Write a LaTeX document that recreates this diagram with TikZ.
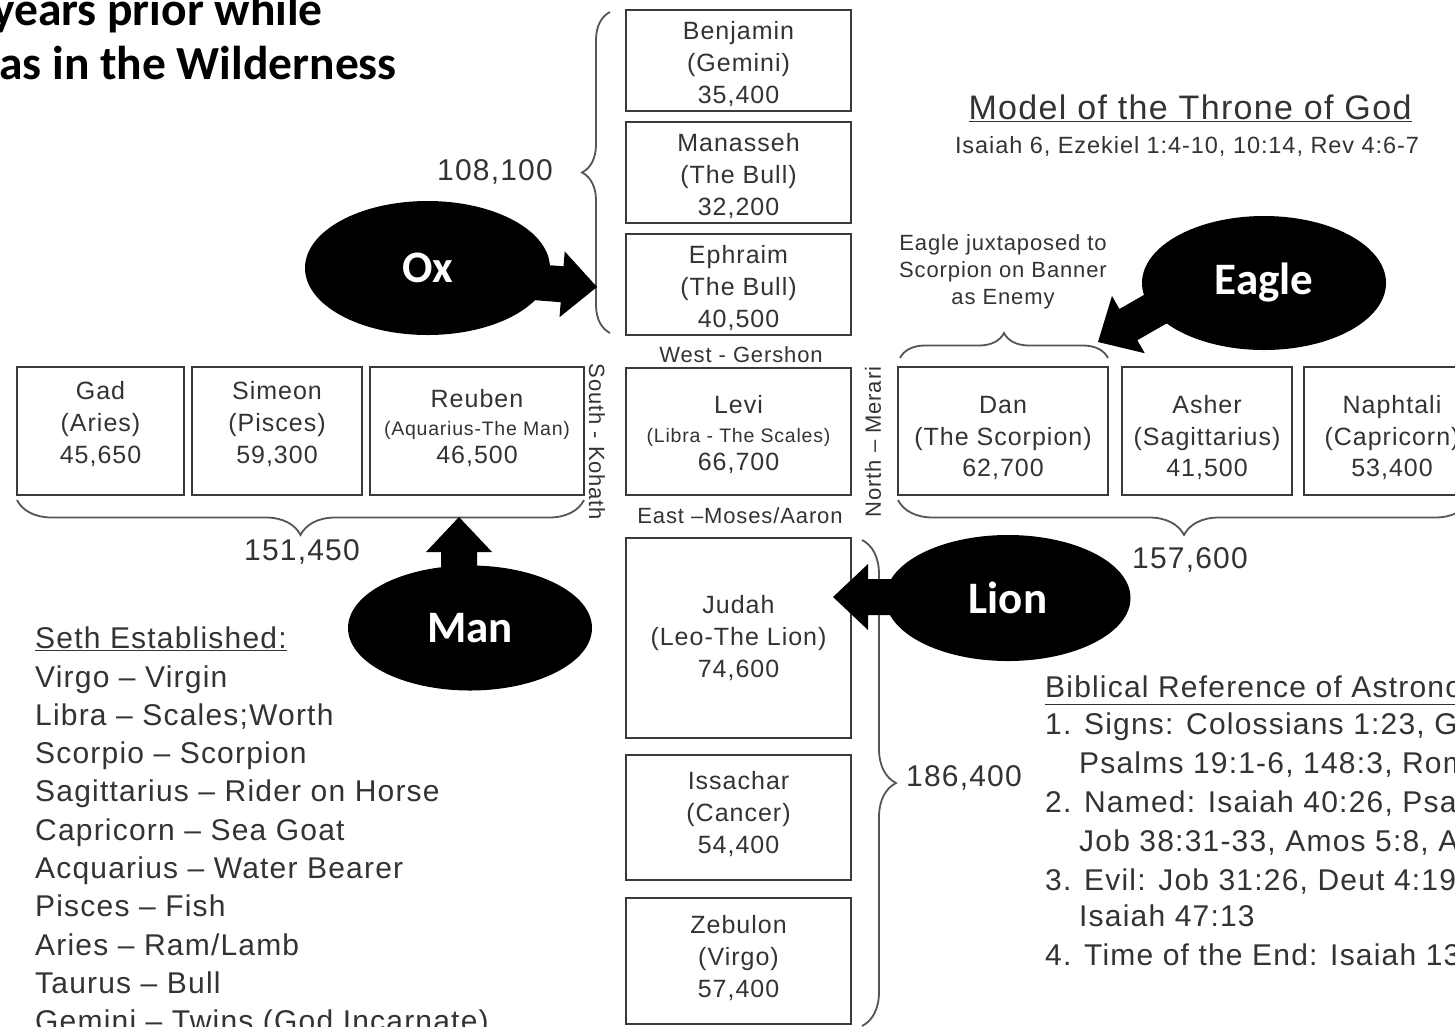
\documentclass[tikz,border=0pt]{standalone}
\usepackage{fontspec}
\usetikzlibrary{shapes.geometric,decorations.pathreplacing,calc}
\newfontfamily\bmf{Liberation Sans}[LetterSpace=4]
\newfontfamily\lbl{Carlito}
\definecolor{txtc}{HTML}{333333}
\definecolor{boxc}{HTML}{3A3A3A}
\definecolor{bracec}{HTML}{555555}
\newcommand{\blockarr}[2]{%
  \coordinate (hb) at ($(#2)!35pt!(#1)$);
  \fill[black] ($(#1)!18pt!-90:(hb)$) -- ($(hb)!18pt!90:(#1)$) -- ($(hb)!33pt!90:(#1)$) -- (#2)
    -- ($(hb)!33pt!-90:(#1)$) -- ($(hb)!18pt!-90:(#1)$) -- ($(#1)!18pt!90:(hb)$) -- cycle;
}
\tikzset{
  tbox/.style={draw=boxc, line width=2.2pt, inner sep=0pt, rectangle},
  ttxt/.style={text=txtc, font=\bmf\fontsize{25}{32}\selectfont, align=center, inner sep=0pt},
  blob/.style={ellipse, fill=black, inner sep=0pt, text=white, font=\lbl\bfseries\fontsize{45}{54}\selectfont},
  brc/.style={draw=bracec, line width=1.8pt, decorate, decoration={brace, amplitude=#1}},
  numtxt/.style={text=txtc, font=\bmf\fontsize{30}{36}\selectfont, inner sep=0pt},
  listtxt/.style={text=txtc, font=\bmf\fontsize{30}{36}\selectfont, inner sep=0pt, anchor=base west},
  dirtxt/.style={text=txtc, font=\bmf\fontsize{22}{26}\selectfont, inner sep=0pt},
  headtxt/.style={text=black, font=\lbl\bfseries\fontsize{47.5}{54}\selectfont, inner sep=0pt, anchor=base east},
}
\begin{document}
\begin{tikzpicture}[x=1pt,y=-1pt]
\useasboundingbox (0,0) rectangle (1455,1026);
\fill[white] (0,0) rectangle (1455,1026);

% heading fragment
\node[headtxt] (h1) at (323,25) {years prior while};
\node[headtxt] (h2) at (397,79) {as in the Wilderness};

% title
\node[text=txtc, font=\bmf\fontsize{34}{40}\selectfont, inner sep=0pt] (title) at (1190,108) {\underline{Model of the Throne of God}};
\node[text=txtc, font=\bmf\fontsize{23.5}{28}\selectfont, inner sep=0pt] (subtitle) at (1187,146) {Isaiah 6, Ezekiel 1:4-10, 10:14, Rev 4:6-7};

% top column
\node[tbox, minimum width=225pt, minimum height=101pt] (benj) at (738.5,60.5) {};
\node[ttxt] (benjt) at (738.5,64) {Benjamin\\(Gemini)\\35,400};
\node[tbox, minimum width=225pt, minimum height=101pt] (mana) at (738.5,172.5) {};
\node[ttxt] (manat) at (738.5,176) {Manasseh\\(The Bull)\\32,200};
\node[tbox, minimum width=225pt, minimum height=101pt] (ephr) at (738.5,284.5) {};
\node[ttxt] (ephrt) at (738.5,288) {Ephraim\\(The Bull)\\40,500};
\draw[brc=28pt] (610,333) -- (610,12);
\node[numtxt] (n108) at (495,172) {108,100};

% middle row left
\node[tbox, minimum width=167pt, minimum height=128pt] (gad) at (100.5,431) {};
\node[ttxt] (gadt) at (100.5,424) {Gad\\(Aries)\\45,650};
\node[tbox, minimum width=170pt, minimum height=128pt] (sim) at (277,431) {};
\node[ttxt] (simt) at (277,424) {Simeon\\(Pisces)\\59,300};
\node[tbox, minimum width=214pt, minimum height=128pt] (reu) at (477,431) {};
\node[ttxt, font=\bmf\fontsize{25}{28}\selectfont] (reut) at (477,428) {Reuben\\{\fontsize{19.5}{28}\selectfont(Aquarius-The Man)}\\46,500};
\draw[brc=35pt] (584,500) -- (17,500);
\node[numtxt] (n151) at (302,552) {151,450};

% centre
\node[tbox, minimum width=225pt, minimum height=127pt] (levi) at (738.5,431.5) {};
\node[ttxt, font=\bmf\fontsize{25}{28.5}\selectfont] (levit) at (738.5,435) {Levi\\{\fontsize{19.5}{28.5}\selectfont(Libra - The Scales)}\\66,700};
\node[dirtxt] (west) at (741,355) {West - Gershon};
\node[dirtxt] (east) at (740,516) {East –Moses/Aaron};
\node[dirtxt, rotate=-90] (south) at (597,442) {South - Kohath};
\node[dirtxt, rotate=90] (north) at (873,442) {North – Merari};

% middle row right
\node[tbox, minimum width=210pt, minimum height=128pt] (dan) at (1003,431) {};
\node[ttxt, font=\bmf\fontsize{25}{31.5}\selectfont] (dant) at (1003,438) {Dan\\(The Scorpion)\\62,700};
\node[tbox, minimum width=170pt, minimum height=128pt] (ash) at (1207,431) {};
\node[ttxt, font=\bmf\fontsize{25}{31.5}\selectfont] (asht) at (1207,438) {Asher\\(Sagittarius)\\41,500};
\node[tbox, minimum width=176pt, minimum height=128pt] (naph) at (1392,431) {};
\node[ttxt, font=\bmf\fontsize{25}{31.5}\selectfont] (napht) at (1392,438) {Naphtali\\(Capricorn)\\53,400};
\draw[brc=35pt] (1470,500) -- (898,500);
\node[numtxt] (n157) at (1190,560) {157,600};
\draw[brc=25pt] (900,358) -- (1108,358);
\node[ttxt, font=\bmf\fontsize{22}{27}\selectfont] (eaglenote) at (1003,272) {Eagle juxtaposed to\\Scorpion on Banner\\as Enemy};

% lower column
\node[tbox, minimum width=225pt, minimum height=200pt] (jud) at (738.5,638) {};
\node[ttxt] (judt) at (738.5,638) {Judah\\(Leo-The Lion)\\74,600};
\node[tbox, minimum width=225pt, minimum height=125pt] (iss) at (738.5,817.5) {};
\node[ttxt] (isst) at (738.5,814) {Issachar\\(Cancer)\\54,400};
\node[tbox, minimum width=225pt, minimum height=126pt] (zeb) at (738.5,961) {};
\node[ttxt] (zebt) at (738.5,958) {Zebulon\\(Virgo)\\57,400};
\draw[brc=34pt] (862,540) -- (862,1026);
\node[numtxt, anchor=west] (n186) at (906,778) {186,400};

% Seth list
\node[listtxt] (seth) at (35,648) {\underline{Seth Established:}};
\foreach \t [count=\i] in {Virgo – Virgin, Libra – Scales;Worth, Scorpio – Scorpion, Sagittarius – Rider on Horse, Capricorn – Sea Goat, Acquarius – Water Bearer, Pisces – Fish, Aries – Ram/Lamb, Taurus – Bull, Gemini – Twins (God Incarnate)}
  \node[listtxt] (seth\i) at (35,{687+(\i-1)*38.3}) {\t};

% Biblical reference list
\node[listtxt] (bib) at (1045,697) {\underline{Biblical Reference of Astronomy}};
\node[listtxt] (bib1) at (1045,734) {1. Signs: Colossians 1:23, Genesis};
\node[listtxt] (bib1b) at (1079,773) {Psalms 19:1-6, 148:3, Romans};
\node[listtxt] (bib2) at (1045,812) {2. Named: Isaiah 40:26, Psalms};
\node[listtxt] (bib2b) at (1079,851) {Job 38:31-33, Amos 5:8, A};
\node[listtxt] (bib3) at (1045,890) {3. Evil: Job 31:26, Deut 4:19,};
\node[listtxt] (bib3b) at (1079,926) {Isaiah 47:13};
\node[listtxt] (bib4) at (1045,965) {4. Time of the End: Isaiah 13};

% callouts
\coordinate (oxtail) at (470,277);
\coordinate (oxtip) at (597,287);
\coordinate (mantail) at (459,600);
\coordinate (mantip) at (459,517);
\coordinate (liontail) at (960,597);
\coordinate (liontip) at (833,597);
\coordinate (eagletail) at (1180,295);
\coordinate (eagletip) at (1098,342);
\blockarr{oxtail}{oxtip}
\blockarr{mantail}{mantip}
\blockarr{liontail}{liontip}
\blockarr{eagletail}{eagletip}
\node[blob, minimum width=245pt, minimum height=134pt] (ox) at (427.5,268) {Ox};
\node[blob, minimum width=244pt, minimum height=134pt] (eagle) at (1264,283) {Eagle};
\node[blob, minimum width=245pt, minimum height=126pt] (lion) at (1008,598) {Lion};
\node[blob, minimum width=244pt, minimum height=125pt] (man) at (470,628) {Man};
\end{tikzpicture}
\end{document}
